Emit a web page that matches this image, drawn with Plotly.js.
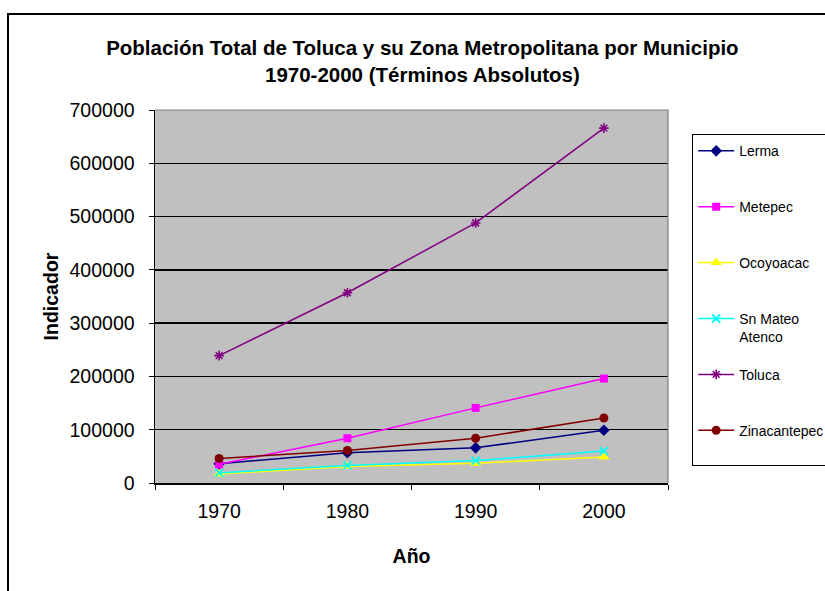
<!DOCTYPE html>
<html>
<head>
<meta charset="utf-8">
<script src="https://cdn.plot.ly/plotly-3.0.1.min.js"></script>
<style>
  html, body { margin: 0; padding: 0; background: #ffffff; }
  #chart { width: 825px; height: 591px; }
</style>
</head>
<body>
<div id="chart"></div>
<script>
// ---- data ----
const years = ['1970', '1980', '1990', '2000'];
const lerma        = [36000, 57000, 66000, 99000];
const metepec      = [35000, 84000, 141000, 196000];
const ocoyoacac    = [17000, 31000, 37000, 49000];
const snMateo      = [19000, 33000, 42000, 60000];
const toluca       = [239000, 357000, 488000, 666000];
const zinacantepec = [46000, 61000, 84000, 122000];
const seriesNames  = ['Lerma', 'Metepec', 'Ocoyoacac', 'Sn Mateo<br>Atenco', 'Toluca', 'Zinacantepec'];
const yTicks = [0, 100000, 200000, 300000, 400000, 500000, 600000, 700000];

const seriesValues = [lerma, metepec, ocoyoacac, snMateo, toluca, zinacantepec];
const styles = [
  {color: '#000080', symbol: 'diamond', size: 9, lw: 0},
  {color: '#FF00FF', symbol: 'square', size: 8, lw: 0},
  {color: '#FFFF00', symbol: 'triangle-up', size: 10, lw: 0},
  {color: '#00FFFF', symbol: 'x-thin-open', size: 8, lw: 1.8},
  {color: '#800080', symbol: 'asterisk-open', size: 8, lw: 1.6},
  {color: '#800000', symbol: 'circle', size: 9, lw: 0}
];

const traces = seriesValues.map((vals, i) => ({
  type: 'scatter',
  mode: 'lines+markers',
  x: years,
  y: vals,
  name: seriesNames[i].indexOf('<br>') >= 0 ? seriesNames[i] : seriesNames[i] + '<br> ',
  legendgroup: 'g' + i,
  line: {color: styles[i].color, width: 1.5},
  marker: {
    color: styles[i].color,
    symbol: styles[i].symbol,
    size: styles[i].size,
    line: {color: styles[i].color, width: styles[i].lw}
  }
}));

// plot area in px: left 155, right 668, top 110, bottom 483
const layout = {
  width: 825,
  height: 591,
  margin: {l: 155, r: 157, t: 110, b: 108, autoexpand: false},
  paper_bgcolor: '#ffffff',
  plot_bgcolor: '#C0C0C0',
  font: {family: '"Liberation Sans", Arial, sans-serif', color: '#000000', size: 19.5},
  title: {
    text: '<b>Población Total de Toluca y su Zona Metropolitana por Municipio<br>1970-2000 (Términos Absolutos)</b>',
    font: {size: 20.5, family: '"Liberation Sans", Arial, sans-serif', color: '#000000'},
    x: 0.512, xanchor: 'center', xref: 'container',
    y: 1 - 55 / 591, yanchor: 'middle', yref: 'container'
  },
  xaxis: {
    type: 'category',
    range: [-0.5, 3.5],
    tickson: 'boundaries',
    ticks: 'outside',
    ticklen: 5,
    tickcolor: '#000000',
    showline: true,
    linecolor: '#000000',
    linewidth: 1.5,
    showgrid: false,
    zeroline: false,
    tickfont: {size: 19.5},
    ticklabelstandoff: 10,
    title: {text: '<b>Año</b>', font: {size: 19.5}, standoff: 28},
    fixedrange: true
  },
  yaxis: {
    range: [0, 700000],
    tickvals: yTicks,
    tickformat: 'd',
    ticks: 'outside',
    ticklen: 5,
    tickcolor: '#000000',
    showline: true,
    linecolor: '#000000',
    linewidth: 1.5,
    showgrid: true,
    gridcolor: '#000000',
    gridwidth: 1.5,
    zeroline: false,
    tickfont: {size: 19.5},
    ticklabelstandoff: 10,
    title: {text: '<b>Indicador</b>', font: {size: 19.5}, standoff: 5},
    fixedrange: true
  },
  legend: {
    x: (692 - 155) / 513,
    xanchor: 'left',
    y: (483 - 134) / 373,
    yanchor: 'top',
    bgcolor: '#ffffff',
    bordercolor: '#000000',
    borderwidth: 1.2,
    font: {size: 14, family: '"Liberation Sans", Arial, sans-serif', color: '#000000'},
    traceorder: 'grouped',
    tracegroupgap: 16.5,
    valign: 'top',
    itemwidth: 36
  },
  shapes: [
    {
      type: 'path', xref: 'paper', yref: 'paper',
      path: 'M 0 1 L 1 1 L 1 0',
      line: {color: '#808080', width: 1.2}, layer: 'above'
    },
    {
      type: 'rect', xref: 'paper', yref: 'paper',
      x0: (8 - 155) / 513, x1: 1.6,
      y0: -0.6, y1: (483 - 14) / 373,
      line: {color: '#000000', width: 2}, fillcolor: 'rgba(0,0,0,0)', layer: 'above'
    }
  ],
  showlegend: true,
  hovermode: false
};

Plotly.newPlot('chart', traces, layout, {displayModeBar: false, staticPlot: true});
</script>
</body>
</html>
